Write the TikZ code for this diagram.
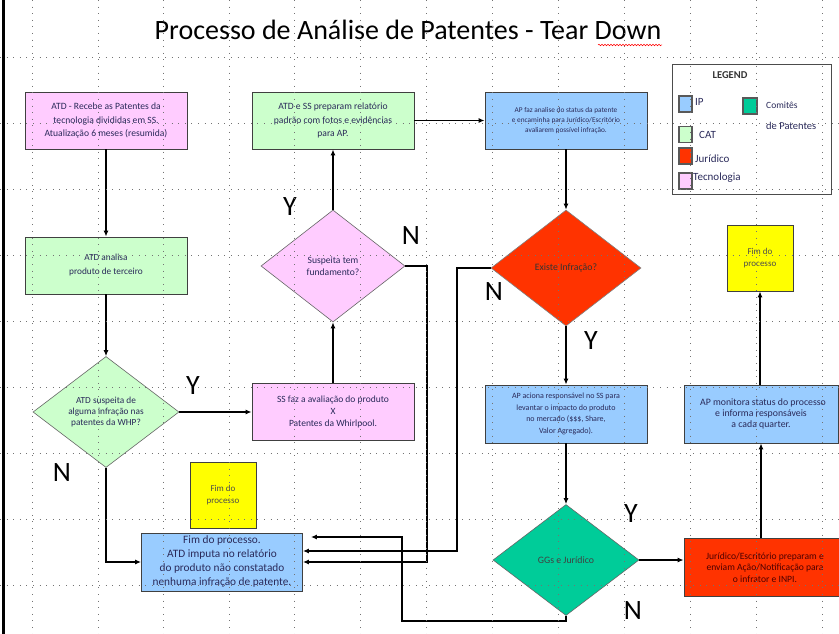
\documentclass[tikz,border=0pt]{standalone}
\usepackage{fontspec}
\setmainfont{Carlito}
\usetikzlibrary{shapes.geometric,arrows.meta,calc,decorations.pathmorphing}
\definecolor{cpink}{HTML}{FFCCFF}
\definecolor{cgreen}{HTML}{CCFFCC}
\definecolor{cblue}{HTML}{99CCFF}
\definecolor{cred}{HTML}{FF3300}
\definecolor{cyel}{HTML}{FFFF00}
\definecolor{cteal}{HTML}{00CC99}
\definecolor{txt}{HTML}{2A2A5A}
\newcommand\setfs[2]{\fontsize{#1}{#2}\selectfont}
\begin{document}
\begin{tikzpicture}[x=1pt,y=-1pt,
  box/.style={draw=black!75, line width=0.8pt, minimum width=162, minimum height=57, inner sep=0, align=center, text=txt, font=\setfs{9.6}{13.5}},
  dia/.style={diamond, draw=black!60, line width=0.6pt, inner sep=0, align=center, text=txt, font=\setfs{9.5}{11.5}},
  fim/.style={draw=black!75, line width=0.8pt, fill=cyel, minimum width=66, minimum height=66, inner sep=0, align=center, text=black!70, font=\setfs{9}{12}},
  arr/.style={-{Latex[length=6pt,width=5pt]}, line width=1.2pt},
  yn/.style={font=\setfs{28}{28}, inner sep=0},
  sw/.style={draw=black!65, line width=1.2pt, minimum width=13, minimum height=16, inner sep=0},
  legt/.style={anchor=west, inner sep=0, text=txt, font=\setfs{11}{12}},
  gridl/.style={black!55, line width=0.8pt, dash pattern=on 0.9pt off 5.7pt}
]
\useasboundingbox (0,0) rectangle (839,634);
\clip (0,0) rectangle (839,634);
\fill[white] (0,0) rectangle (839,634);
\draw[line width=3pt] (3,0) -- (3,634);

% title
\node[font=\setfs{28}{32}, inner sep=0] (title) at (408,30) {Processo de Análise de Patentes - Tear Down};
\draw[red, line width=0.5pt, decorate, decoration={snake, amplitude=0.8pt, segment length=3pt}] (598,45) -- (662,45);

% boxes
\node[box, fill=cpink] (b1) at (106,120.5) {ATD - Recebe as Patentes da\\tecnologia divididas em SS.\\Atualização 6 meses (resumida)};
\node[box, fill=cgreen, font=\setfs{9.3}{14}] (b2) at (106,265.5) {ATD analisa\\produto de terceiro};
\node[dia, fill=cgreen, minimum width=146, minimum height=111, font=\setfs{9.3}{11}] (d3) at (106,412) {ATD suspeita de\\alguma infração nas\\patentes da WHP?};
\node[box, fill=cpink, font=\setfs{9.5}{12}] (b4) at (333,412) {SS faz a avaliação do produto\\X\\Patentes da Whirlpool.};
\node[dia, fill=cpink, minimum width=144, minimum height=112, font=\setfs{9.6}{12}] (d5) at (333,266) {Suspeita tem\\fundamento?};
\node[box, fill=cgreen] (b6) at (333,120.5) {ATD e SS preparam relatório\\padrão com fotos e evidências\\para AP.};
\node[box, fill=cblue, font=\setfs{7.3}{10}] (b7) at (566,120.5) {AP faz analise do status da patente\\e encaminha para Jurídico/Escritório\\avaliarem possível infração.};
\node[dia, fill=cred, draw=black!50, minimum width=150, minimum height=116, text=black!80, font=\setfs{9.8}{12}] (d8) at (566,268) {\raisebox{-3pt}{Existe Infração?}};
\node[box, fill=cblue, minimum height=58, font=\setfs{8}{11.7}] (b9) at (566,414) {AP aciona responsável no SS para\\levantar o impacto do produto\\no mercado (\$\$\$, Share,\\Valor Agregado).};
\node[dia, fill=cteal, minimum width=146, minimum height=111, text=black!75, font=\setfs{9.8}{12}] (d10) at (566,560) {GGs e Jurídico};
\node[box, fill=cred, minimum height=58, text=black!70!red, font=\setfs{9.6}{11.5}] (b11) at (765,567.5) {Jurídico/Escritório preparam e\\enviam Ação/Notificação para\\o infrator e INPI.};
\node[box, fill=cblue, minimum width=154, minimum height=58, font=\setfs{9.8}{11}] (b12) at (761,414) {\hspace*{4pt}AP monitora status do processo\\e informa responsáveis\\a cada quarter.};
\node[fim] (y1) at (760,258) {Fim do\\processo};
\node[fim] (y2) at (223,495) {Fim do\\processo};
\node[box, fill=cblue, minimum width=161, minimum height=58, font=\setfs{11.3}{14}] (b15) at (222,562) {Fim do processo.\\ATD imputa no relatório\\do produto não constatado\\nenhuma infração de patente.};

% legend
\node[draw=black!70, line width=0.8pt, minimum width=159, minimum height=130, inner sep=0] (leg) at (751.5,129) {};
\node[font=\bfseries\setfs{10.5}{12}, text=black!80, inner sep=0] (legt) at (730,75) {LEGEND};
\node[sw, fill=cblue] (s1) at (685.5,104) {};
\node[legt] (t1) at (695,102) {IP};
\node[sw, fill=cgreen] (s2) at (685.5,134.5) {};
\node[legt] (t2) at (699,135) {CAT};
\node[sw, fill=cred] (s3) at (685.5,156) {};
\node[legt] (t3) at (695,159) {Jurídico};
\node[sw, fill=cpink] (s4) at (685.5,181) {};
\node[legt] (t4) at (693,178) {Tecnologia};
\node[sw, fill=cteal, minimum width=14] (s5) at (750,106) {};
\node[legt, font=\setfs{9.5}{12}] (t5) at (766,105) {Comitês};
\node[legt, font=\setfs{10.5}{12}] (t6) at (766,126) {de Patentes};

% bend points
\coordinate (k1) at (427,266);
\coordinate (k2) at (457,268);
\coordinate (k3) at (566,621);
\coordinate (k4) at (402,621);

% connectors
\draw[arr] (b1.south) -- (b2.north);
\draw[arr] (b2.south) -- (d3.north);
\draw[arr] (d3.east) -- (b4.west);
\draw[arr] (d3.south) |- (b15.west);
\draw[arr] (b4.north) -- (d5.south);
\draw[arr] (d5.north) -- (b6.south);
\draw[arr] (b6.east) -- (b7.west);
\draw[arr] (b7.south) -- (d8.north);
\draw[arr] (d8.south) -- (b9.north);
\draw[arr] (b9.south) -- (d10.north);
\draw[arr] (d10.east) -- (d10.east -| b11.west);
\draw[arr] (b11.north -| b12.south) -- (b12.south);
\draw[arr] (b12.north -| y1.south) -- (y1.south);
\draw[arr] (d5.east) -- (k1) |- (b15.east);
\draw[arr] (d8.west) -- (k2) |- ([yshift=11]b15.east);
\draw[arr] (d10.south) -- (k3) -- (k4) |- ([xshift=8,yshift=25]b15.east);

% Y / N labels
\node[yn] (l1) at (290,207) {Y};
\node[yn] (l2) at (411,236) {N};
\node[yn] (l3) at (193,386) {Y};
\node[yn] (l4) at (62,473) {N};
\node[yn] (l5) at (494,292) {N};
\node[yn] (l6) at (591,341) {Y};
\node[yn] (l7) at (631,514) {Y};
\node[yn] (l8) at (633,611) {N};

% grid overlay
\foreach \gx in {32,98,163,229,294,360,426,492,558,624,690,756,822}
  \draw[gridl] (\gx,0) -- (\gx,634);
\foreach \gy in {57,123,189,255,321,387,453,519,585}
  \draw[gridl] (0,\gy) -- (839,\gy);
\end{tikzpicture}
\end{document}
